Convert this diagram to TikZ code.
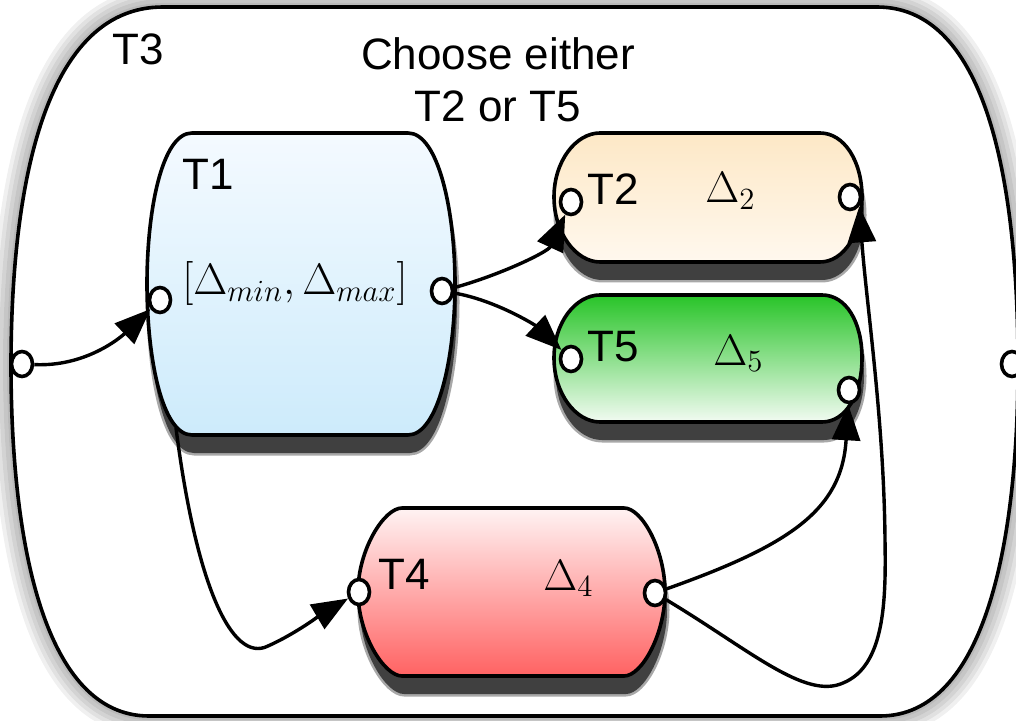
\RequirePackage{fix-cm}
\documentclass[tikz,border=0pt]{standalone}
\usepackage{fontspec}
\newfontfamily\labfont{Liberation Sans}
\usetikzlibrary{arrows.meta,shapes.geometric}

\definecolor{shd}{HTML}{404040}
\definecolor{tonetop}{HTML}{F4FAFF}
\definecolor{tonebot}{HTML}{CDEBFB}
\definecolor{ttwotop}{HTML}{FDE8C6}
\definecolor{ttwobot}{HTML}{FFF8EE}
\definecolor{tfivetop}{HTML}{28C428}
\definecolor{tfivebot}{HTML}{F2FBF2}
\definecolor{tfourtop}{HTML}{FFF3F3}
\definecolor{tfourbot}{HTML}{FF6262}

% barrel outline: xl, xr, ytop, ybot, XL, XR, ymid, a, b
\newcommand\barrelpath[9]{(#1,#3) -- (#2,#3) .. controls ({#2+#8},#3) and (#6,{#7-#9}) .. (#6,#7) .. controls (#6,{#7+#9}) and ({#2+#8},#4) .. (#2,#4) -- (#1,#4) .. controls ({#1-#8},#4) and (#5,{#7+#9}) .. (#5,#7) .. controls (#5,{#7-#9}) and ({#1-#8},#3) .. cycle}
\newcommand\outerpath{(163,7) -- (877,7) .. controls (995,7) and (1018,210) .. (1018,365) .. controls (1018,545) and (984,716) .. (880,716) -- (149,716) .. controls (45,716) and (11,545) .. (11,365) .. controls (11,200) and (40,7) .. cycle}

\tikzset{
  border/.style={draw=black, line width=1.8pt},
  port/.style={ellipse, draw=black, fill=white, line width=1.8pt, inner sep=0pt,
    minimum width=10.5pt, minimum height=12.5pt},
  conn/.style={line width=1.7pt, -{Triangle[length=18pt,width=14pt]}},
  lab/.style={font=\labfont\fontsize{22}{26}\selectfont, inner sep=0pt, anchor=base west},
  mlab/.style={font=\fontsize{22}{26}\selectfont, inner sep=0pt, anchor=base west},
  shadowfill/.style={fill=shd, shift={(2,18)}},
  shadowsoft/.style={draw=shd, opacity=0.45, line width=2.5pt, shift={(2,18)}},
}

\begin{document}
\begin{tikzpicture}[x=0.5pt, y=-0.5pt]
\useasboundingbox (0,0) rectangle (1016,721);
\fill[white] (0,0) rectangle (1016,721);

% outer T3 with soft glow shadow
\foreach \w in {4,8,12,16,20}{
  \draw[black, opacity=0.06, line width=\w pt] \outerpath;
}
\path[fill=white, border] \outerpath;

% shadows of inner blocks
\draw[shadowsoft] \barrelpath{192}{408}{133}{435}{147}{455}{284}{30}{74};
\fill[shadowfill] \barrelpath{192}{408}{133}{435}{147}{455}{284}{30}{74};
\draw[shadowsoft] \barrelpath{600}{820}{133}{262}{554}{862}{197}{24}{36};
\fill[shadowfill] \barrelpath{600}{820}{133}{262}{554}{862}{197}{24}{36};
\draw[shadowsoft] \barrelpath{600}{822}{295}{422}{554}{862}{358}{24}{36};
\fill[shadowfill] \barrelpath{600}{822}{295}{422}{554}{862}{358}{24}{36};
\draw[shadowsoft] \barrelpath{402}{624}{508}{676}{358}{665}{592}{18}{42};
\fill[shadowfill] \barrelpath{402}{624}{508}{676}{358}{665}{592}{18}{42};

% inner blocks
\path[border, top color=tonetop, bottom color=tonebot] \barrelpath{192}{408}{133}{435}{147}{455}{284}{30}{74};
\path[border, top color=ttwotop, bottom color=ttwobot] \barrelpath{600}{820}{133}{262}{554}{862}{197}{24}{36};
\path[border, top color=tfivetop, bottom color=tfivebot] \barrelpath{600}{822}{295}{422}{554}{862}{358}{24}{36};
\path[border, top color=tfourtop, bottom color=tfourbot] \barrelpath{402}{624}{508}{676}{358}{665}{592}{18}{42};

% labels
\node[lab] (lt3) at (112,65) {T3};
\node[lab, anchor=base] (lchoose) at (498,70) {Choose either};
\node[lab, anchor=base] (lor) at (498,122) {T2 or T5};
\node[lab] (lt1) at (182,190) {T1};
\node[mlab] (lrange) at (182,295) {$[\Delta_{min},\Delta_{max}]$};
\node[lab] (lt2) at (587,205) {T2};
\node[mlab] (ld2) at (705,203) {$\Delta_2$};
\node[lab] (lt5) at (587,362) {T5};
\node[mlab] (ld5) at (713,365) {$\Delta_5$};
\node[lab] (lt4) at (378,589) {T4};
\node[mlab] (ld4) at (543,590) {$\Delta_4$};

% ports
\node[port] (p3l) at (22,364) {};
\node[port] (p3r) at (1012,364) {};
\node[port] (p1l) at (160,300) {};
\node[port] (p1r) at (442,291) {};
\node[port] (p2l) at (571,202) {};
\node[port] (p2r) at (850,197) {};
\node[port] (p5l) at (571,359) {};
\node[port] (p5r) at (849,390) {};
\node[port] (p4l) at (359,592) {};
\node[port] (p4r) at (655,593) {};
\coordinate (t1out) at (176,428);

% connectors
\draw[conn] (p3l) .. controls (85,367) and (120,338) .. (p1l);
\draw[conn] (p1r) .. controls (500,275) and (548,252) .. (p2l);
\draw[conn] (p1r) .. controls (495,300) and (535,325) .. (p5l);
\draw[conn] (t1out) .. controls (196,585) and (232,664) .. (268,646) .. controls (295,634) and (322,614) .. (p4l);
\draw[conn] (p4r) .. controls (790,545) and (842,510) .. (p5r);
\draw[conn] (p4r) .. controls (750,650) and (805,700) .. (843,683) .. controls (885,666) and (886,600) .. (885,540) .. controls (884,420) and (866,300) .. (p2r.-45);
\end{tikzpicture}
\end{document}
